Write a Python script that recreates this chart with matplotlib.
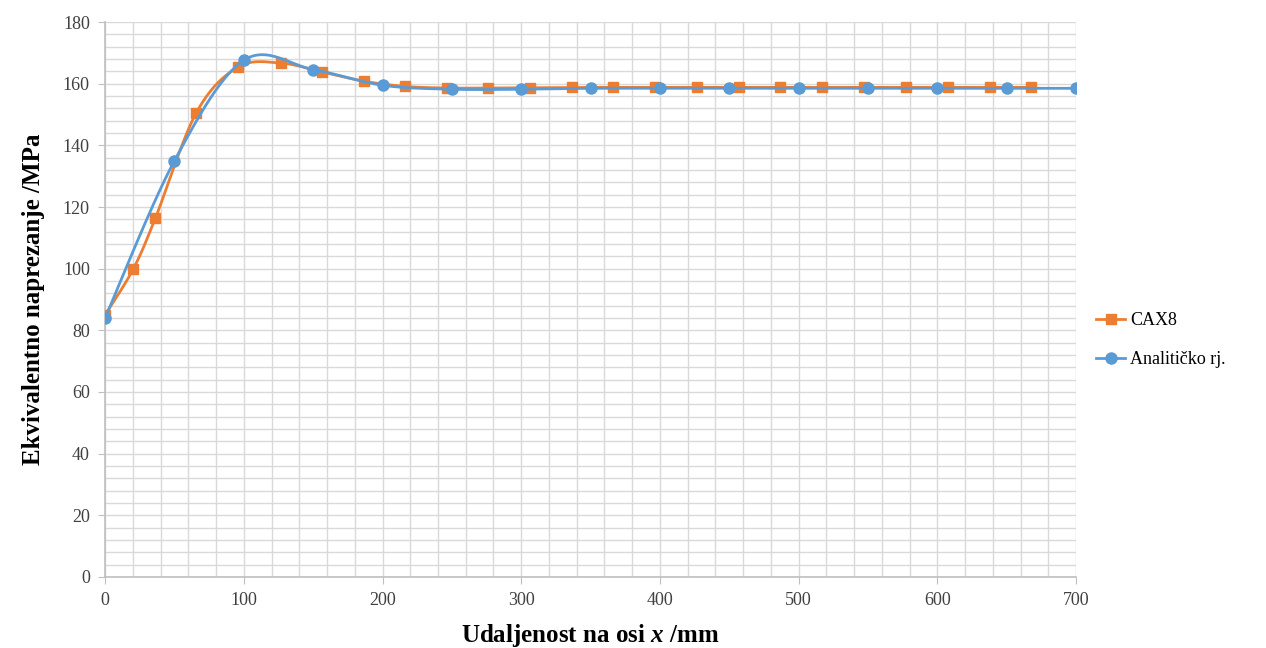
import numpy as np
import matplotlib.pyplot as plt
from matplotlib.ticker import MultipleLocator

# CAX8 results
x_cax = [0, 20.2, 36.2, 65.8, 95.9, 126.5, 156.5, 186.7, 216.5, 246.6, 276.4, 306.5,
         336.4, 366.4, 396.5, 426.7, 456.8, 486.8, 516.9, 547.0, 577.2, 607.4, 637.6, 667.6]
y_cax = [85.0, 99.8, 116.3, 150.6, 165.4, 166.7, 163.8, 160.8, 159.1, 158.6, 158.6, 158.7,
         158.8, 158.8, 158.8, 158.8, 158.8, 158.8, 158.8, 158.8, 158.8, 158.8, 158.8, 158.8]

# analytical solution
x_an = [0, 50, 100, 150, 200, 250, 300, 350, 400, 450, 500, 550, 600, 650, 700]
y_an = [84.0, 135.0, 167.6, 164.6, 159.5, 158.2, 158.2, 158.5, 158.5, 158.5, 158.5,
        158.5, 158.5, 158.5, 158.5]

xlim = (0, 700)
ylim = (0, 180)


def smooth(x, y, sx, sy, n=30):
    # Catmull-Rom like Excel's smoothed line, done in scaled (screen-ish) space
    p = np.column_stack([np.asarray(x) / sx, np.asarray(y) / sy])
    p = np.vstack([p[0], p, p[-1]])
    out = []
    t = np.linspace(0, 1, n)[:, None]
    for i in range(1, len(p) - 2):
        p0, p1, p2, p3 = p[i - 1], p[i], p[i + 1], p[i + 2]
        c1 = p1 + (p2 - p0) / 6
        c2 = p2 - (p3 - p1) / 6
        seg = ((1 - t) ** 3) * p1 + 3 * ((1 - t) ** 2) * t * c1 + 3 * (1 - t) * t ** 2 * c2 + t ** 3 * p2
        out.append(seg)
    out = np.vstack(out)
    return out[:, 0] * sx, out[:, 1] * sy


plt.rcParams['font.family'] = ['Liberation Serif', 'DejaVu Serif']
plt.rcParams['mathtext.fontset'] = 'custom'
plt.rcParams['mathtext.rm'] = 'Liberation Serif'
plt.rcParams['mathtext.it'] = 'Liberation Serif:italic:bold'
plt.rcParams['mathtext.bf'] = 'Liberation Serif:bold'

fig = plt.figure(figsize=(12.66, 6.48), dpi=100)
ax = fig.add_axes([0.083, 0.1096, 0.767, 0.8564])

orange = '#ED7D31'
blue = '#5B9BD5'
sx, sy = 700 / 971, 180 / 555

xs, ys = smooth(x_cax, y_cax, sx, sy)
ax.plot(xs, ys, color=orange, lw=2.0, zorder=3)
ax.plot(x_cax, y_cax, 's', color=orange, ms=7, zorder=4)
xs, ys = smooth(x_an, y_an, sx, sy)
ax.plot(xs, ys, color=blue, lw=2.0, zorder=5)
ax.plot(x_an, y_an, 'o', color=blue, ms=8, zorder=6)

# legend proxies
l1, = ax.plot([], [], color=orange, lw=2.0, marker='s', ms=7)
l2, = ax.plot([], [], color=blue, lw=2.0, marker='o', ms=8)
fig.legend([l1, l2], ['CAX8', 'Analitičko rj.'], loc='center left',
           bbox_to_anchor=(0.853, 0.475), frameon=False, fontsize=13,
           handlelength=1.6, handletextpad=0.3, labelspacing=1.2)

ax.set_xlim(*xlim)
ax.set_ylim(*ylim)
ax.xaxis.set_major_locator(MultipleLocator(100))
ax.xaxis.set_minor_locator(MultipleLocator(20))
ax.yaxis.set_major_locator(MultipleLocator(20))
ax.yaxis.set_minor_locator(MultipleLocator(4))
ax.grid(which='both', color='#d9d9d9', lw=1.0, zorder=0)
ax.set_axisbelow(True)
for s in ['top', 'right']:
    ax.spines[s].set_visible(False)
for s in ['left', 'bottom']:
    ax.spines[s].set_color('#bfbfbf')
    ax.spines[s].set_linewidth(1.2)
ax.tick_params(which='major', length=5, color='#bfbfbf', labelsize=13, labelcolor='#404040', pad=6)
ax.tick_params(which='minor', length=0)

ax.set_xlabel('Udaljenost na osi $x$ /mm', fontsize=18, fontweight='bold', labelpad=9)
ax.set_ylabel('Ekvivalentno naprezanje /MPa', fontsize=18, fontweight='bold', labelpad=13)

fig.savefig('out.png', dpi=100)
